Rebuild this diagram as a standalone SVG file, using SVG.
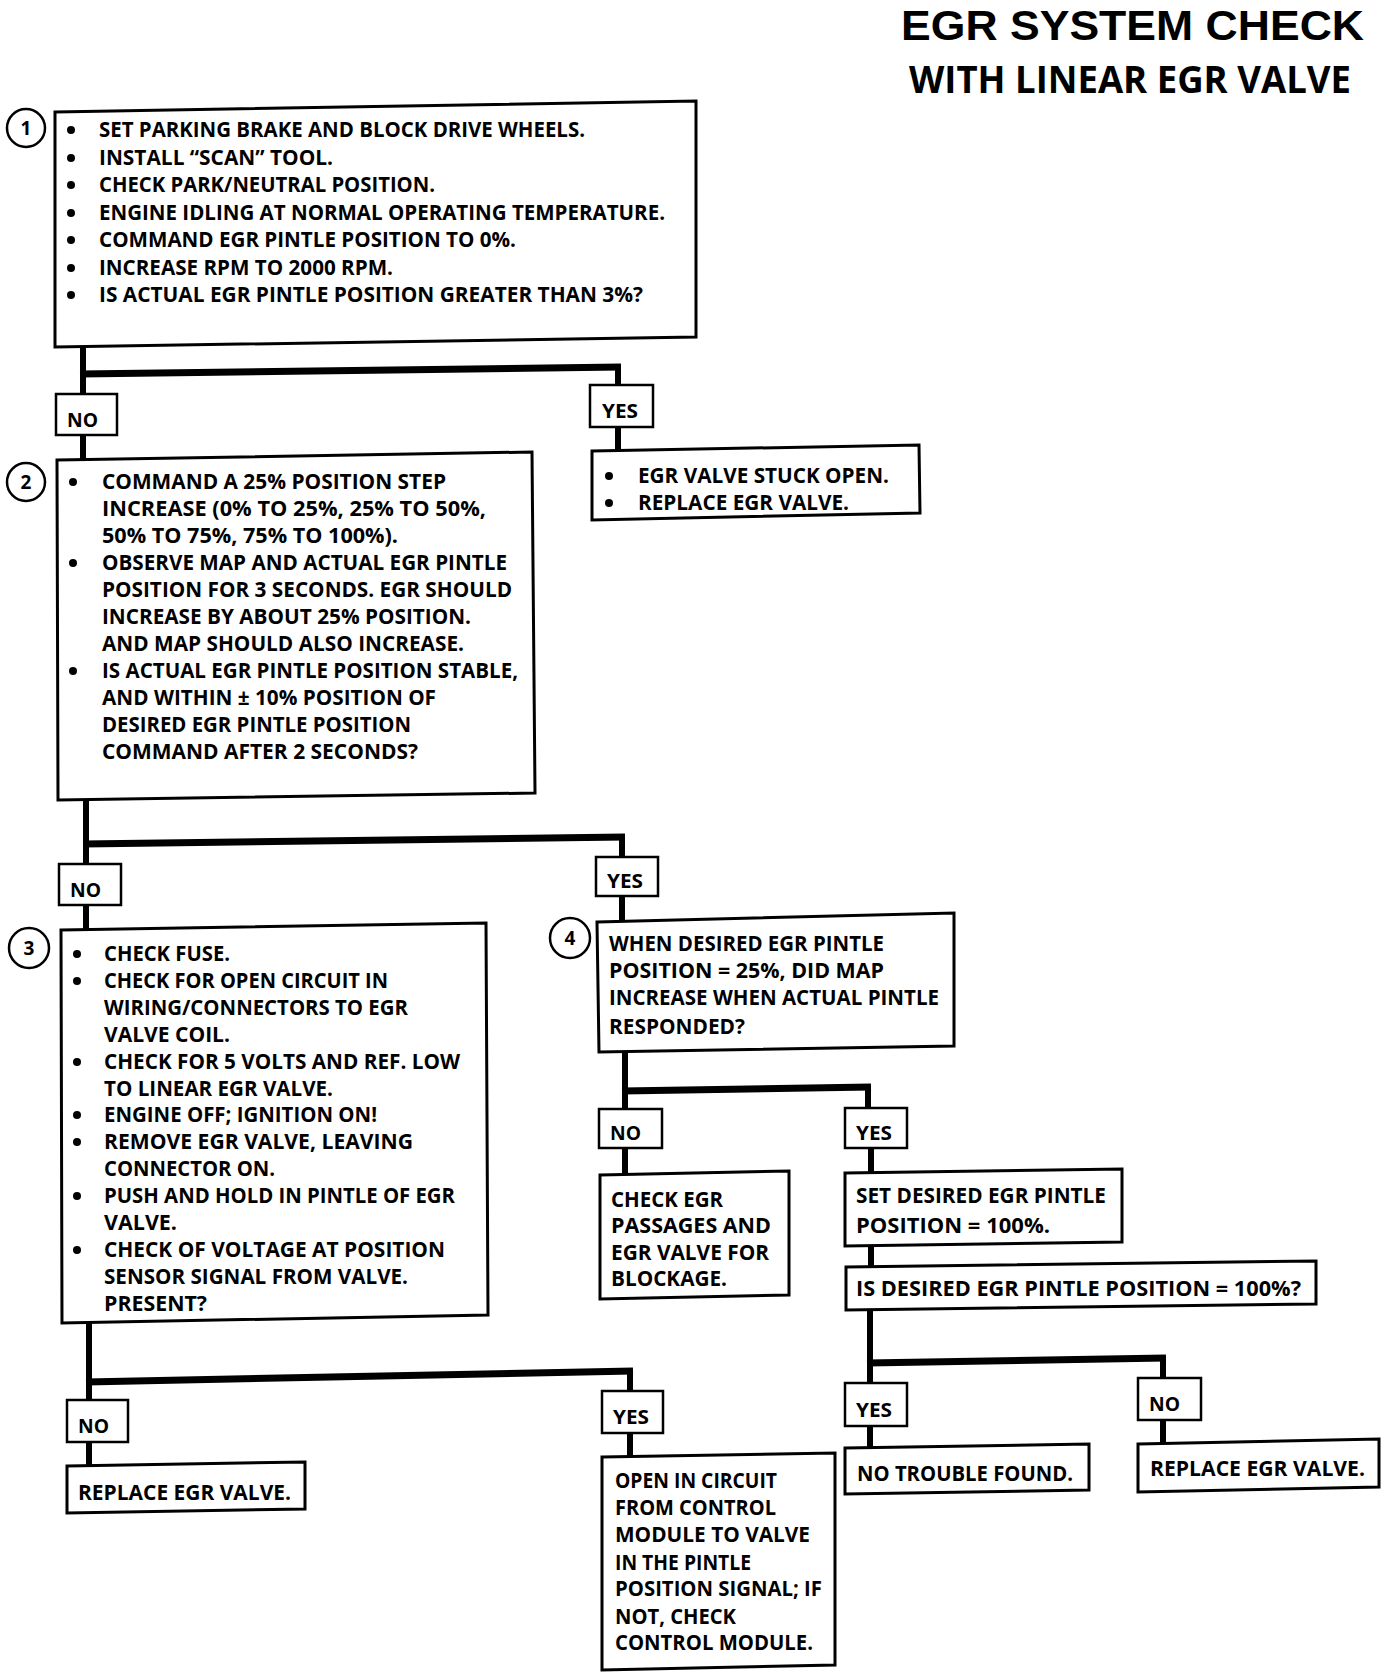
<svg xmlns="http://www.w3.org/2000/svg" width="1392" height="1672" viewBox="0 0 1392 1672">
<style>
.bg{fill:#fff}
.box{fill:#fff;stroke:#000;stroke-width:3}
.lbl{fill:#fff;stroke:#000;stroke-width:2.5}
.num{fill:#fff;stroke:#000;stroke-width:2.5}
.t{font-family:"Open Sans","Liberation Sans",sans-serif;font-weight:700;font-size:21px;fill:#000}
.l{font-family:"Open Sans","Liberation Sans",sans-serif;font-weight:700;font-size:19px;fill:#000}
.n{font-family:"Open Sans","Liberation Sans",sans-serif;font-weight:700;font-size:19px;fill:#000;text-anchor:middle}
.h1{font-family:"Liberation Sans",Arial,sans-serif;font-weight:700;font-size:42px;fill:#000}
.h2{font-family:"Open Sans","Liberation Sans",sans-serif;font-weight:700;font-size:37px;fill:#000}
.c{fill:none;stroke:#000;stroke-width:6}
.ch{fill:none;stroke:#000;stroke-width:7}
.dot{fill:#000}
</style>
<rect class="bg" x="0" y="0" width="1392" height="1672"/>
<g id="title">
<text class="h1" x="901" y="40" textLength="463" lengthAdjust="spacingAndGlyphs">EGR SYSTEM CHECK</text>
<text class="h2" x="909" y="93" textLength="442" lengthAdjust="spacingAndGlyphs">WITH LINEAR EGR VALVE</text>
</g>
<g id="connectors">
<path class="c" d="M83,347 V394 M83,435 V460"/>
<path class="ch" d="M80,374 L621,367"/>
<path class="c" d="M618,367 V385 M618,427 V450"/>
<path class="c" d="M86,800 V864 M86,905 V929"/>
<path class="ch" d="M83,844 L625,837"/>
<path class="c" d="M622,837 V857 M622,896 V920"/>
<path class="c" d="M89,1323 V1400 M89,1442 V1466"/>
<path class="ch" d="M86,1382 L633,1371"/>
<path class="c" d="M630,1371 V1391 M630,1433 V1456"/>
<path class="c" d="M625,1051 V1109 M625,1148 V1175"/>
<path class="ch" d="M622,1091 L871,1087"/>
<path class="c" d="M868,1087 V1108 M871,1148 V1172 M871,1245 V1266"/>
<path class="c" d="M870,1309 V1383 M870,1426 V1447"/>
<path class="ch" d="M867,1363 L1166,1358"/>
<path class="c" d="M1163,1358 V1378 M1163,1420 V1443"/>
</g>
<g id="step1">
<circle class="num" cx="26" cy="128" r="19"/>
<text class="n" x="26" y="135">1</text>
<polygon class="box" points="55,112 696,101 696,337 55,347"/>
<circle class="dot" cx="71" cy="130" r="4"/>
<circle class="dot" cx="71" cy="158" r="4"/>
<circle class="dot" cx="71" cy="185" r="4"/>
<circle class="dot" cx="71" cy="213" r="4"/>
<circle class="dot" cx="71" cy="240" r="4"/>
<circle class="dot" cx="71" cy="268" r="4"/>
<circle class="dot" cx="71" cy="295" r="4"/>
<text class="t" x="99" y="137" textLength="486" lengthAdjust="spacingAndGlyphs">SET PARKING BRAKE AND BLOCK DRIVE WHEELS.</text>
<text class="t" x="99" y="165" textLength="234" lengthAdjust="spacingAndGlyphs">INSTALL “SCAN” TOOL.</text>
<text class="t" x="99" y="192" textLength="336" lengthAdjust="spacingAndGlyphs">CHECK PARK/NEUTRAL POSITION.</text>
<text class="t" x="99" y="220" textLength="566" lengthAdjust="spacingAndGlyphs">ENGINE IDLING AT NORMAL OPERATING TEMPERATURE.</text>
<text class="t" x="99" y="247" textLength="417" lengthAdjust="spacingAndGlyphs">COMMAND EGR PINTLE POSITION TO 0%.</text>
<text class="t" x="99" y="275" textLength="294" lengthAdjust="spacingAndGlyphs">INCREASE RPM TO 2000 RPM.</text>
<text class="t" x="99" y="302" textLength="544" lengthAdjust="spacingAndGlyphs">IS ACTUAL EGR PINTLE POSITION GREATER THAN 3%?</text>
</g>
<g id="no1">
<rect class="lbl" x="56" y="394" width="61" height="41"/>
<text class="l" x="67" y="427" textLength="31" lengthAdjust="spacingAndGlyphs">NO</text>
</g>
<g id="yes1">
<rect class="lbl" x="590" y="385" width="63" height="42"/>
<text class="l" x="602" y="418" textLength="36" lengthAdjust="spacingAndGlyphs">YES</text>
</g>
<g id="stuck">
<polygon class="box" points="592,451 919,445 920,513 592,520"/>
<circle class="dot" cx="609" cy="476" r="4"/>
<circle class="dot" cx="609" cy="503" r="4"/>
<text class="t" x="638" y="483" textLength="251" lengthAdjust="spacingAndGlyphs">EGR VALVE STUCK OPEN.</text>
<text class="t" x="638" y="510" textLength="211" lengthAdjust="spacingAndGlyphs">REPLACE EGR VALVE.</text>
</g>
<g id="step2">
<circle class="num" cx="26" cy="482" r="19"/>
<text class="n" x="26" y="489">2</text>
<polygon class="box" points="57,460 532,452 535,793 58,800"/>
<circle class="dot" cx="73" cy="482" r="4"/>
<circle class="dot" cx="73" cy="563" r="4"/>
<circle class="dot" cx="73" cy="671" r="4"/>
<text class="t" x="102" y="489" textLength="344" lengthAdjust="spacingAndGlyphs">COMMAND A 25% POSITION STEP</text>
<text class="t" x="102" y="516" textLength="384" lengthAdjust="spacingAndGlyphs">INCREASE  (0% TO 25%, 25% TO 50%,</text>
<text class="t" x="102" y="543" textLength="296" lengthAdjust="spacingAndGlyphs">50% TO 75%, 75% TO 100%).</text>
<text class="t" x="102" y="570" textLength="405" lengthAdjust="spacingAndGlyphs">OBSERVE MAP AND ACTUAL EGR PINTLE</text>
<text class="t" x="102" y="597" textLength="410" lengthAdjust="spacingAndGlyphs">POSITION FOR 3 SECONDS.  EGR SHOULD</text>
<text class="t" x="102" y="624" textLength="369" lengthAdjust="spacingAndGlyphs">INCREASE BY ABOUT 25% POSITION.</text>
<text class="t" x="102" y="651" textLength="362" lengthAdjust="spacingAndGlyphs">AND MAP SHOULD ALSO INCREASE.</text>
<text class="t" x="102" y="678" textLength="416" lengthAdjust="spacingAndGlyphs">IS ACTUAL EGR PINTLE POSITION STABLE,</text>
<text class="t" x="102" y="705" textLength="334" lengthAdjust="spacingAndGlyphs">AND WITHIN  ± 10% POSITION OF</text>
<text class="t" x="102" y="732" textLength="309" lengthAdjust="spacingAndGlyphs">DESIRED EGR PINTLE POSITION</text>
<text class="t" x="102" y="759" textLength="316" lengthAdjust="spacingAndGlyphs">COMMAND AFTER 2 SECONDS?</text>
</g>
<g id="no2">
<rect class="lbl" x="59" y="864" width="62" height="41"/>
<text class="l" x="70" y="897" textLength="31" lengthAdjust="spacingAndGlyphs">NO</text>
</g>
<g id="yes2">
<rect class="lbl" x="596" y="857" width="62" height="39"/>
<text class="l" x="607" y="888" textLength="36" lengthAdjust="spacingAndGlyphs">YES</text>
</g>
<g id="step3">
<circle class="num" cx="29" cy="948" r="20"/>
<text class="n" x="29" y="955">3</text>
<polygon class="box" points="61,930 486,923 488,1315 62,1323"/>
<circle class="dot" cx="77" cy="954" r="4"/>
<circle class="dot" cx="77" cy="981" r="4"/>
<circle class="dot" cx="77" cy="1062" r="4"/>
<circle class="dot" cx="77" cy="1115" r="4"/>
<circle class="dot" cx="77" cy="1142" r="4"/>
<circle class="dot" cx="77" cy="1196" r="4"/>
<circle class="dot" cx="77" cy="1250" r="4"/>
<text class="t" x="104" y="961" textLength="126" lengthAdjust="spacingAndGlyphs">CHECK FUSE.</text>
<text class="t" x="104" y="988" textLength="284" lengthAdjust="spacingAndGlyphs">CHECK FOR OPEN CIRCUIT IN</text>
<text class="t" x="104" y="1015" textLength="304" lengthAdjust="spacingAndGlyphs">WIRING/CONNECTORS TO EGR</text>
<text class="t" x="104" y="1042" textLength="126" lengthAdjust="spacingAndGlyphs">VALVE COIL.</text>
<text class="t" x="104" y="1069" textLength="356" lengthAdjust="spacingAndGlyphs">CHECK FOR 5 VOLTS AND REF. LOW</text>
<text class="t" x="104" y="1096" textLength="229" lengthAdjust="spacingAndGlyphs">TO LINEAR EGR VALVE.</text>
<text class="t" x="104" y="1122" textLength="273" lengthAdjust="spacingAndGlyphs">ENGINE OFF; IGNITION ON!</text>
<text class="t" x="104" y="1149" textLength="309" lengthAdjust="spacingAndGlyphs">REMOVE EGR VALVE, LEAVING</text>
<text class="t" x="104" y="1176" textLength="171" lengthAdjust="spacingAndGlyphs">CONNECTOR ON.</text>
<text class="t" x="104" y="1203" textLength="351" lengthAdjust="spacingAndGlyphs">PUSH AND HOLD IN PINTLE OF EGR</text>
<text class="t" x="104" y="1230" textLength="73" lengthAdjust="spacingAndGlyphs">VALVE.</text>
<text class="t" x="104" y="1257" textLength="341" lengthAdjust="spacingAndGlyphs">CHECK OF VOLTAGE AT POSITION</text>
<text class="t" x="104" y="1284" textLength="304" lengthAdjust="spacingAndGlyphs">SENSOR SIGNAL FROM VALVE.</text>
<text class="t" x="104" y="1311" textLength="103" lengthAdjust="spacingAndGlyphs">PRESENT?</text>
</g>
<g id="step4">
<circle class="num" cx="570" cy="938" r="20"/>
<text class="n" x="570" y="945">4</text>
<polygon class="box" points="597,922 954,913 954,1046 599,1052"/>
<text class="t" x="609" y="951" textLength="275" lengthAdjust="spacingAndGlyphs">WHEN DESIRED EGR PINTLE</text>
<text class="t" x="609" y="978" textLength="275" lengthAdjust="spacingAndGlyphs">POSITION  = 25%, DID MAP</text>
<text class="t" x="609" y="1005" textLength="330" lengthAdjust="spacingAndGlyphs">INCREASE WHEN ACTUAL PINTLE</text>
<text class="t" x="609" y="1034" textLength="136" lengthAdjust="spacingAndGlyphs">RESPONDED?</text>
</g>
<g id="no3">
<rect class="lbl" x="67" y="1400" width="61" height="42"/>
<text class="l" x="78" y="1433" textLength="31" lengthAdjust="spacingAndGlyphs">NO</text>
</g>
<g id="yes3">
<rect class="lbl" x="602" y="1391" width="61" height="42"/>
<text class="l" x="613" y="1424" textLength="36" lengthAdjust="spacingAndGlyphs">YES</text>
</g>
<g id="replace-left">
<polygon class="box" points="67,1466 305,1462 305,1509 67,1513"/>
<text class="t" x="78" y="1500" textLength="213" lengthAdjust="spacingAndGlyphs">REPLACE EGR VALVE.</text>
</g>
<g id="open-circuit">
<polygon class="box" points="602,1457 835,1453 835,1665 602,1670"/>
<text class="t" x="615" y="1488" textLength="162" lengthAdjust="spacingAndGlyphs">OPEN IN CIRCUIT</text>
<text class="t" x="615" y="1515" textLength="161" lengthAdjust="spacingAndGlyphs">FROM CONTROL</text>
<text class="t" x="615" y="1542" textLength="195" lengthAdjust="spacingAndGlyphs">MODULE TO VALVE</text>
<text class="t" x="615" y="1570" textLength="136" lengthAdjust="spacingAndGlyphs">IN THE PINTLE</text>
<text class="t" x="615" y="1596" textLength="207" lengthAdjust="spacingAndGlyphs">POSITION SIGNAL; IF</text>
<text class="t" x="615" y="1624" textLength="121" lengthAdjust="spacingAndGlyphs">NOT, CHECK</text>
<text class="t" x="615" y="1650" textLength="198" lengthAdjust="spacingAndGlyphs">CONTROL MODULE.</text>
</g>
<g id="no4">
<rect class="lbl" x="599" y="1109" width="63" height="39"/>
<text class="l" x="610" y="1140" textLength="31" lengthAdjust="spacingAndGlyphs">NO</text>
</g>
<g id="yes4">
<rect class="lbl" x="845" y="1108" width="62" height="40"/>
<text class="l" x="856" y="1140" textLength="36" lengthAdjust="spacingAndGlyphs">YES</text>
</g>
<g id="check-egr">
<polygon class="box" points="600,1175 789,1171 789,1295 600,1299"/>
<text class="t" x="611" y="1207" textLength="112" lengthAdjust="spacingAndGlyphs">CHECK EGR</text>
<text class="t" x="611" y="1233" textLength="160" lengthAdjust="spacingAndGlyphs">PASSAGES AND</text>
<text class="t" x="611" y="1260" textLength="158" lengthAdjust="spacingAndGlyphs">EGR VALVE FOR</text>
<text class="t" x="611" y="1286" textLength="116" lengthAdjust="spacingAndGlyphs">BLOCKAGE.</text>
</g>
<g id="set-desired">
<polygon class="box" points="845,1173 1122,1169 1122,1242 845,1246"/>
<text class="t" x="856" y="1203" textLength="250" lengthAdjust="spacingAndGlyphs">SET DESIRED EGR PINTLE</text>
<text class="t" x="856" y="1233" textLength="194" lengthAdjust="spacingAndGlyphs">POSITION  =  100%.</text>
</g>
<g id="is-desired">
<polygon class="box" points="846,1267 1316,1261 1316,1304 846,1310"/>
<text class="t" x="856" y="1296" textLength="445" lengthAdjust="spacingAndGlyphs">IS DESIRED EGR PINTLE POSITION  =  100%?</text>
</g>
<g id="yes5">
<rect class="lbl" x="845" y="1383" width="62" height="43"/>
<text class="l" x="856" y="1417" textLength="36" lengthAdjust="spacingAndGlyphs">YES</text>
</g>
<g id="no5">
<rect class="lbl" x="1138" y="1378" width="63" height="42"/>
<text class="l" x="1149" y="1411" textLength="31" lengthAdjust="spacingAndGlyphs">NO</text>
</g>
<g id="no-trouble">
<polygon class="box" points="845,1448 1089,1444 1089,1490 845,1494"/>
<text class="t" x="857" y="1481" textLength="216" lengthAdjust="spacingAndGlyphs">NO TROUBLE FOUND.</text>
</g>
<g id="replace-right">
<polygon class="box" points="1138,1444 1379,1439 1379,1487 1138,1492"/>
<text class="t" x="1150" y="1476" textLength="215" lengthAdjust="spacingAndGlyphs">REPLACE EGR VALVE.</text>
</g>
</svg>
